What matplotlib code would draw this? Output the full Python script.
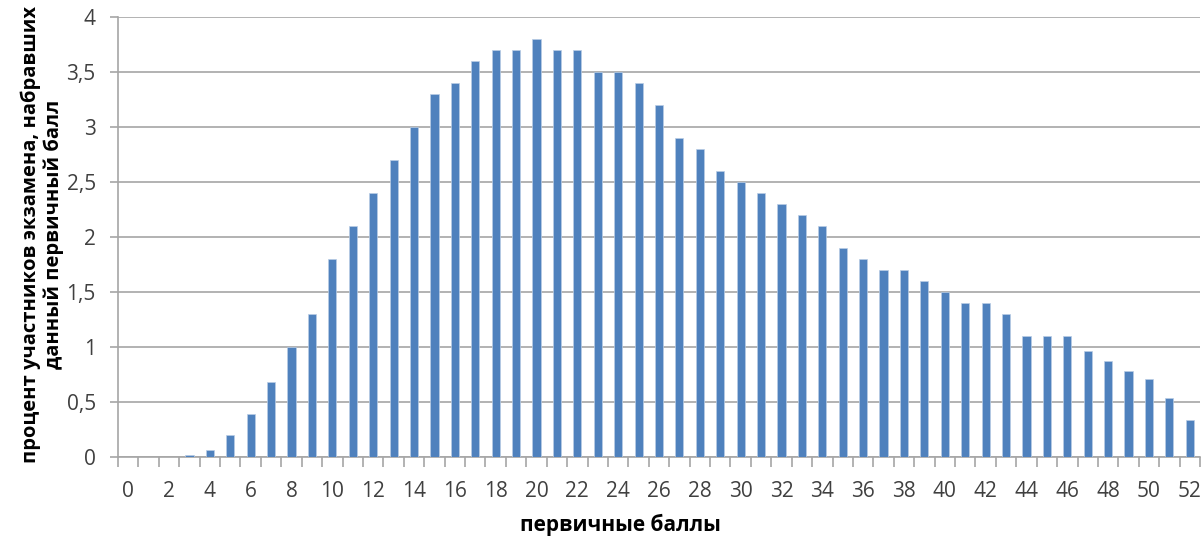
import numpy as np
import matplotlib.pyplot as plt
from matplotlib.ticker import FixedLocator, NullFormatter

plt.rcParams['font.family'] = ['Open Sans', 'DejaVu Sans']

scores = list(range(53))
percent = [0, 0, 0, 0.015, 0.065, 0.2, 0.39, 0.68, 1.0, 1.3,
           1.8, 2.1, 2.4, 2.7, 3.0, 3.3, 3.4, 3.6, 3.7, 3.7,
           3.8, 3.7, 3.7, 3.5, 3.5, 3.4, 3.2, 2.9, 2.8, 2.6,
           2.5, 2.4, 2.3, 2.2, 2.1, 1.9, 1.8, 1.7, 1.7, 1.6,
           1.5, 1.4, 1.4, 1.3, 1.1, 1.1, 1.1, 0.96, 0.87, 0.78,
           0.71, 0.54, 0.34]
y_ticks = [0, 0.5, 1, 1.5, 2, 2.5, 3, 3.5, 4]
y_labels = ['0', '0,5', '1', '1,5', '2', '2,5', '3', '3,5', '4']

fig = plt.figure(figsize=(12.04, 5.40), dpi=100)
ax = fig.add_axes([118/1204, 1 - 457/540, (1200-118)/1204, (457-17)/540])

ax.bar(scores, percent, width=0.4, color='#4F81BD', edgecolor='#B9CDE5', linewidth=0.5, zorder=3)

ax.set_xlim(-0.5, 52.5)
ax.set_ylim(0, 4)

ax.set_yticks(y_ticks)
ax.set_yticklabels(y_labels)
ax.yaxis.grid(True, color='#A6A6A6', linewidth=1.2, zorder=0)

# labels on every second score, tick marks at category boundaries
ax.set_xticks(scores[::2])
ax.tick_params(axis='x', which='major', length=0, pad=17)
ax.xaxis.set_minor_locator(FixedLocator(np.arange(-0.5, 53, 1)))
ax.xaxis.set_minor_formatter(NullFormatter())
ax.tick_params(axis='x', which='minor', length=7, color='#A6A6A6', width=1.2)
ax.tick_params(axis='y', length=6, color='#A6A6A6', width=1.2, pad=10)
ax.tick_params(labelsize=15, labelcolor='#404040')

for s in ['top', 'right']:
    ax.spines[s].set_visible(False)
for s in ['left', 'bottom']:
    ax.spines[s].set_color('#A6A6A6')
    ax.spines[s].set_linewidth(1.2)

ax.set_xlabel('первичные баллы', fontsize=15, fontweight='bold', color='#000000')
ax.xaxis.set_label_coords((620-118)/1082, -0.13)
ax.set_ylabel('процент участников экзамена, набравших\nданный первичный балл',
              fontsize=14.5, fontweight='bold', color='#000000', linespacing=1.15)
ax.yaxis.set_label_coords(-54/1082, 0.505)

fig.savefig('out.png', dpi=100)
